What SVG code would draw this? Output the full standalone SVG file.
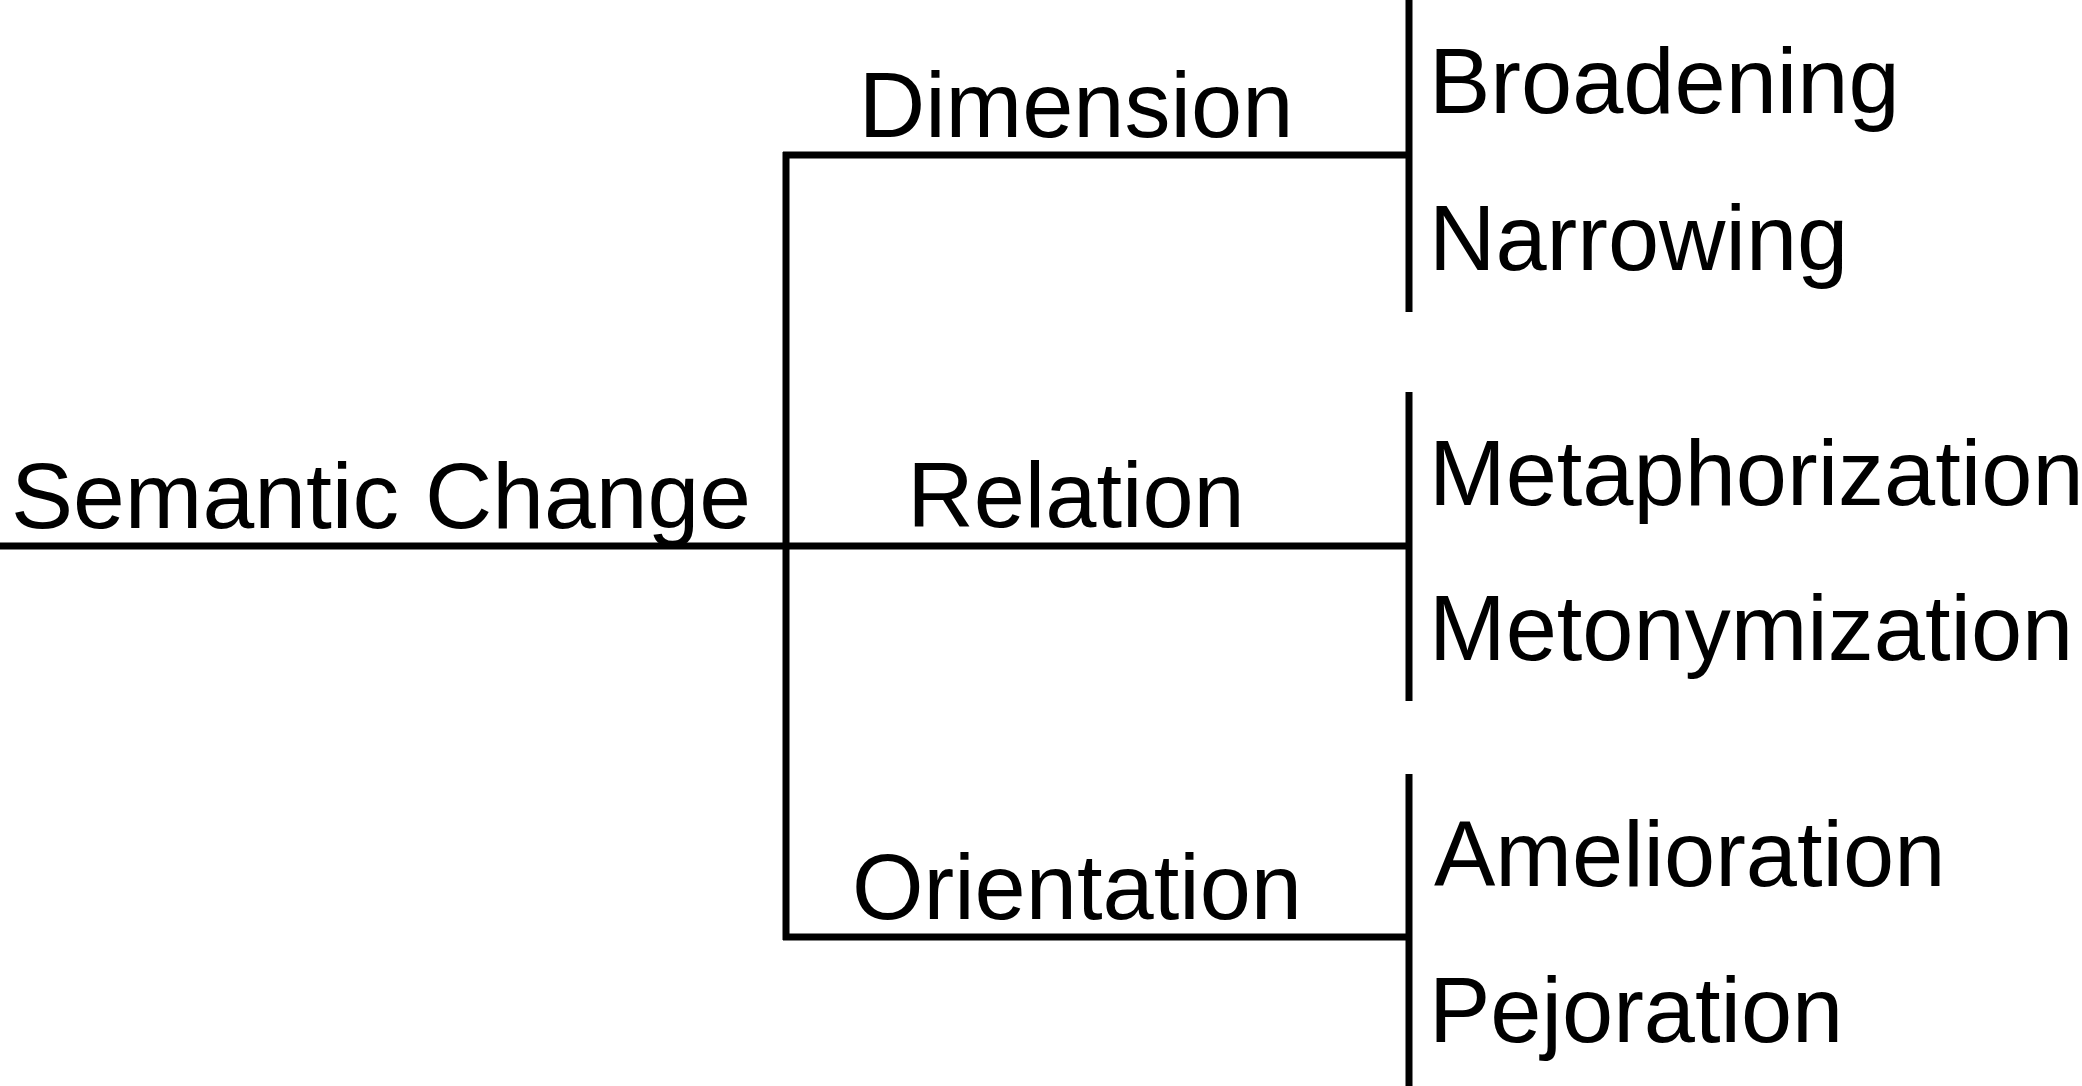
<svg xmlns="http://www.w3.org/2000/svg" width="2082" height="1086" viewBox="0 0 2082 1086">
<style>
.t{font-family:"Liberation Sans",Arial,sans-serif;font-size:92px;fill:#000}
.c{text-anchor:middle}
.l{stroke:#000;stroke-width:7;fill:none;stroke-linecap:butt}
</style>
<rect width="2082" height="1086" fill="#fff"/>
<g id="connectors">
<path class="l" d="M0 546H789"/>
<path class="l" d="M786 152V940"/>
<path class="l" d="M783 155H1409"/>
<path class="l" d="M786 546H1409"/>
<path class="l" d="M783 937H1409"/>
<path class="l" d="M1409 0V312"/>
<path class="l" d="M1409 392V701"/>
<path class="l" d="M1409 774V1086"/>
</g>
<g id="root"><text class="t" x="11" y="528" textLength="740" lengthAdjust="spacingAndGlyphs">Semantic Change</text></g>
<g id="dimension"><text class="t c" x="1076" y="137">Dimension</text></g>
<g id="relation"><text class="t c" x="1076" y="527">Relation</text></g>
<g id="orientation"><text class="t c" x="1077" y="919">Orientation</text></g>
<g id="broadening"><text class="t" x="1429" y="113">Broadening</text></g>
<g id="narrowing"><text class="t" x="1429" y="270">Narrowing</text></g>
<g id="metaphorization"><text class="t" x="1429" y="505">Metaphorization</text></g>
<g id="metonymization"><text class="t" x="1429" y="660">Metonymization</text></g>
<g id="amelioration"><text class="t" x="1434" y="886">Amelioration</text></g>
<g id="pejoration"><text class="t" x="1429" y="1042">Pejoration</text></g>
</svg>
